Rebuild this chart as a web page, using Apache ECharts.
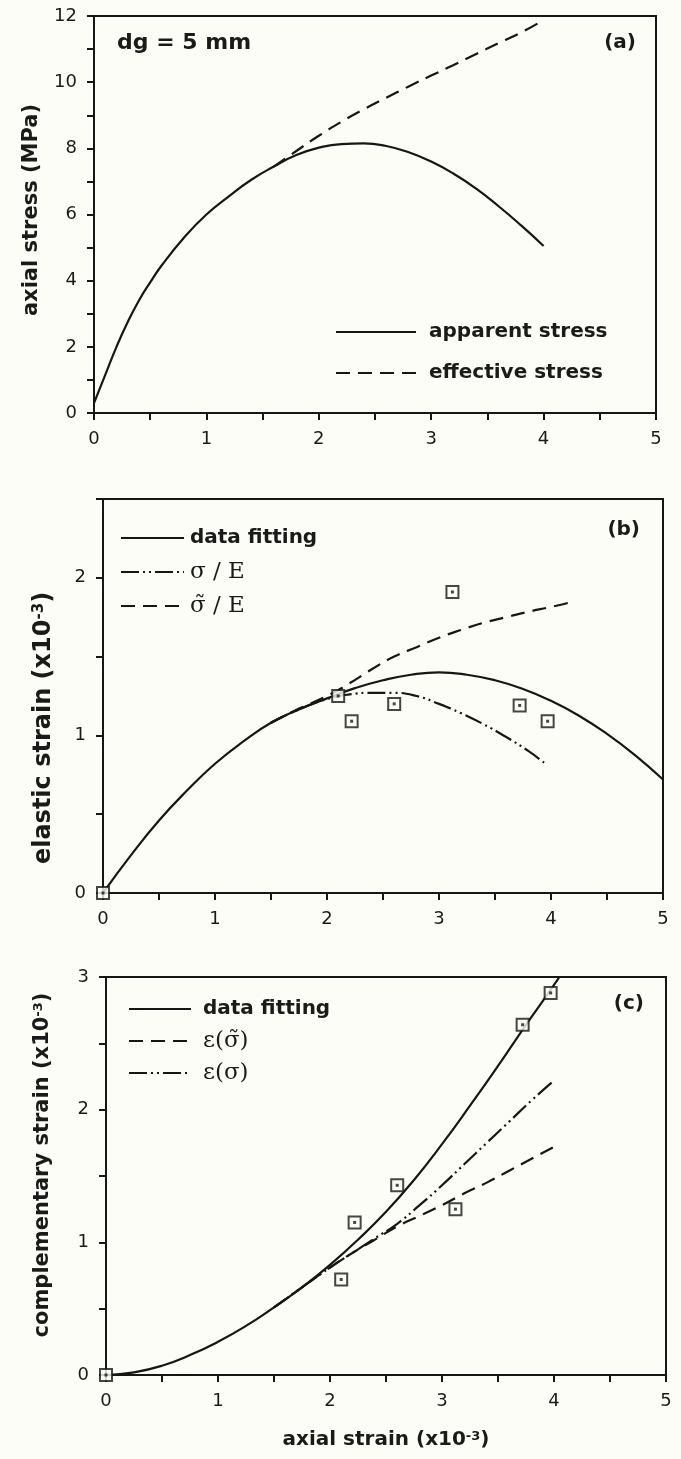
<!DOCTYPE html>
<html>
<head>
<meta charset="utf-8">
<script src="https://cdn.jsdelivr.net/npm/echarts@6/dist/echarts.min.js"></script>
<style>
html,body{margin:0;padding:0;background:#fdfdf8;}
#chart{width:681px;height:1459px;}
</style>
</head>
<body>
<div id="chart"></div>
<script>
// ---------- data ----------
const xTickLabels = ['0', '1', '2', '3', '4', '5'];
const yTickLabelsA = ['0', '2', '4', '6', '8', '10', '12'];
const yTickLabelsB = ['0', '1', '2'];
const yTickLabelsC = ['0', '1', '2', '3'];

// panel (a)
const aStrain = [0, 0.1, 0.2, 0.3, 0.4, 0.5, 0.6, 0.8, 1.0, 1.2, 1.4, 1.6, 1.8, 2.0, 2.2, 2.4, 2.6, 2.8, 3.0, 3.2, 3.4, 3.6, 3.8, 4.0];
const apparentStress = [0.3, 1.15, 2.0, 2.75, 3.4, 3.95, 4.45, 5.3, 6.0, 6.55, 7.05, 7.45, 7.8, 8.02, 8.13, 8.15, 8.07, 7.88, 7.6, 7.23, 6.78, 6.25, 5.67, 5.05];
const effStrain = [1.6, 1.8, 2.0, 2.2, 2.4, 2.6, 2.8, 3.0, 3.2, 3.4, 3.6, 3.8, 3.95];
const effectiveStress = [7.45, 7.92, 8.38, 8.8, 9.18, 9.53, 9.87, 10.2, 10.52, 10.85, 11.18, 11.5, 11.78];

// panel (b)
const bFitStrain = [0, 0.25, 0.5, 0.75, 1, 1.25, 1.5, 1.75, 2, 2.25, 2.5, 2.75, 3, 3.25, 3.5, 3.75, 4, 4.25, 4.5, 4.75, 5];
const bFit = [0, 0.24, 0.46, 0.65, 0.82, 0.96, 1.08, 1.165, 1.235, 1.30, 1.35, 1.385, 1.40, 1.385, 1.35, 1.295, 1.22, 1.125, 1.01, 0.875, 0.72];
const bSigmaStrain = [1.5, 1.75, 2.0, 2.2, 2.4, 2.6, 2.8, 3.0, 3.2, 3.4, 3.6, 3.8, 3.95];
const bSigmaE = [1.08, 1.165, 1.23, 1.26, 1.27, 1.27, 1.25, 1.20, 1.14, 1.07, 0.99, 0.90, 0.82];
const bTildeStrain = [1.5, 1.75, 2.0, 2.2, 2.4, 2.6, 2.8, 3.0, 3.2, 3.4, 3.6, 3.8, 4.0, 4.15];
const bTildeE = [1.08, 1.17, 1.25, 1.33, 1.42, 1.50, 1.56, 1.62, 1.67, 1.715, 1.75, 1.785, 1.815, 1.84];

// panel (c)
const cFitStrain = [0, 0.25, 0.5, 0.75, 1, 1.25, 1.5, 1.75, 2, 2.25, 2.5, 2.75, 3, 3.25, 3.5, 3.75, 4, 4.1];
const cFit = [0, 0.02, 0.07, 0.15, 0.25, 0.37, 0.51, 0.66, 0.83, 1.02, 1.23, 1.47, 1.74, 2.03, 2.33, 2.64, 2.94, 3.07];
const cTildeStrain = [1.5, 1.75, 2.0, 2.2, 2.4, 2.6, 2.8, 3.0, 3.2, 3.4, 3.6, 3.8, 4.0];
const cTilde = [0.51, 0.66, 0.81, 0.92, 1.02, 1.12, 1.20, 1.28, 1.37, 1.45, 1.54, 1.63, 1.72];
const cSigmaStrain = [1.5, 1.75, 2.0, 2.2, 2.4, 2.6, 2.8, 3.0, 3.2, 3.4, 3.6, 3.8, 4.0];
const cSigma = [0.51, 0.66, 0.81, 0.92, 1.03, 1.14, 1.28, 1.43, 1.59, 1.75, 1.91, 2.07, 2.22];

// measured points (b) and (c)
const markerStrain = [0, 2.1, 2.22, 2.6, 3.12, 3.72, 3.97];
const elasticMarkers = [0, 1.25, 1.09, 1.2, 1.91, 1.19, 1.09];
const complementaryMarkers = [0, 0.72, 1.15, 1.43, 1.25, 2.64, 2.88];

// ---------- styling ----------
const INK = '#161616';
const BG = '#fdfdf8';
const SANS = 'DejaVu Sans';
const SERIF = 'DejaVu Serif';
const DASH = [14, 8];
const DASHDOT2 = [18, 4, 2, 4, 2, 4];

const pairs = (xs, ys) => xs.map((x, i) => [x, ys[i]]);

function lineSeries(name, xs, ys, gi, type) {
  return {
    type: 'line', name: name, xAxisIndex: gi, yAxisIndex: gi,
    data: pairs(xs, ys), symbol: 'none', showSymbol: false, smooth: 0.5,
    lineStyle: { color: INK, width: 2.2, type: type, cap: 'butt' },
    itemStyle: { color: INK },
    z: 3, silent: true, animation: false
  };
}
function markerSeries(xs, ys, gi) {
  return [{
    type: 'scatter', xAxisIndex: gi, yAxisIndex: gi, data: pairs(xs, ys),
    symbol: 'rect', symbolSize: 12,
    itemStyle: { color: BG, borderColor: INK, borderWidth: 2 },
    z: 5, silent: true, animation: false, clip: false
  }, {
    type: 'scatter', xAxisIndex: gi, yAxisIndex: gi, data: pairs(xs, ys),
    symbol: 'rect', symbolSize: 3,
    itemStyle: { color: INK },
    z: 6, silent: true, animation: false, clip: false
  }];
}
function xAx(gi) {
  return {
    type: 'value', gridIndex: gi, min: 0, max: 5, interval: 0.5,
    axisLine: { show: true, onZero: false, lineStyle: { color: INK, width: 2 } },
    axisTick: { show: true, inside: false, length: 7, lineStyle: { color: INK, width: 2 } },
    axisLabel: {
      margin: 17, fontSize: 18, fontFamily: SANS, color: '#1a1a1a',
      formatter: v => Number.isInteger(v) ? xTickLabels[v] : ''
    },
    splitLine: { show: false }
  };
}
function yAx(gi, max, interval, labels) {
  return {
    type: 'value', gridIndex: gi, min: 0, max: max, interval: interval,
    axisLine: { show: true, onZero: false, lineStyle: { color: INK, width: 2 } },
    axisTick: { show: true, inside: false, length: 7, lineStyle: { color: INK, width: 2 } },
    axisLabel: {
      margin: 17, fontSize: 18, fontFamily: SANS, color: '#1a1a1a',
      formatter: v => labels.includes(String(v)) ? String(v) : ''
    },
    splitLine: { show: false }
  };
}
const legendText = {
  fontFamily: SANS, fontWeight: 'bold', fontSize: 20, color: '#1a1a1a',
  lineHeight: 24
};
const serifText = {
  fontFamily: SERIF, fontWeight: 'normal', fontSize: 23, color: '#1a1a1a',
  lineHeight: 24
};
const hiddenSymbol = { color: 'rgba(0,0,0,0)', borderColor: 'rgba(0,0,0,0)', borderWidth: 0, opacity: 0 };
function gridBox(left, top, width, height) {
  return {
    left: left, top: top, width: width, height: height,
    show: true, borderColor: INK, borderWidth: 2, backgroundColor: 'transparent',
    containLabel: false, outerBoundsMode: 'none'
  };
}
function txt(x, y, text, opts) {
  return Object.assign({
    type: 'text', x: x, y: y, silent: true,
    style: Object.assign({
      text: text, fill: '#1a1a1a',
      fontFamily: SANS, fontWeight: 'bold', fontSize: 20,
      align: 'center', verticalAlign: 'middle',
      textAlign: 'center', textVerticalAlign: 'middle',
      rich: { sup: { fontFamily: SANS, fontWeight: 'bold', fontSize: 13, lineHeight: 12, verticalAlign: 'top', fill: '#1a1a1a' } }
    }, opts && opts.style)
  }, opts && opts.el);
}

const chart = echarts.init(document.getElementById('chart'), null, { renderer: 'canvas' });
chart.setOption({
  backgroundColor: BG,
  animation: false,
  grid: [
    gridBox(94, 16, 562, 397),
    gridBox(103, 499, 560, 394),
    gridBox(106, 977, 560, 398)
  ],
  xAxis: [xAx(0), xAx(1), xAx(2)],
  yAxis: [
    yAx(0, 12, 1, yTickLabelsA),
    yAx(1, 2.5, 0.5, yTickLabelsB),
    yAx(2, 3, 0.5, yTickLabelsC)
  ],
  legend: [
    {
      orient: 'vertical', left: 330, top: 315, itemWidth: 80, itemHeight: 14, itemGap: 17,
      selectedMode: false, itemStyle: hiddenSymbol,
      textStyle: Object.assign({ padding: [0, 0, 0, 8] }, legendText),
      data: ['apparent stress', 'effective stress']
    },
    {
      orient: 'vertical', left: 115, top: 521, itemWidth: 63, itemHeight: 14, itemGap: 10,
      selectedMode: false, itemStyle: hiddenSymbol,
      textStyle: Object.assign({ padding: [0, 0, 0, 1] }, legendText),
      data: ['data fitting',
        { name: 'σ / E', textStyle: serifText },
        { name: 'σ̃ / E', textStyle: serifText }]
    },
    {
      orient: 'vertical', left: 123, top: 992, itemWidth: 62, itemHeight: 14, itemGap: 8,
      selectedMode: false, itemStyle: hiddenSymbol,
      textStyle: Object.assign({ padding: [0, 0, 0, 7] }, legendText),
      data: ['data fitting',
        { name: 'ε(σ̃)', textStyle: serifText },
        { name: 'ε(σ)', textStyle: serifText }]
    }
  ],
  series: [
    lineSeries('apparent stress', aStrain, apparentStress, 0, 'solid'),
    lineSeries('effective stress', effStrain, effectiveStress, 0, DASH),
    lineSeries('data fitting', bFitStrain, bFit, 1, 'solid'),
    lineSeries('σ / E', bSigmaStrain, bSigmaE, 1, DASHDOT2),
    lineSeries('σ̃ / E', bTildeStrain, bTildeE, 1, DASH),
    ...markerSeries(markerStrain, elasticMarkers, 1),
    lineSeries('data fitting', cFitStrain, cFit, 2, 'solid'),
    lineSeries('ε(σ̃)', cTildeStrain, cTilde, 2, DASH),
    lineSeries('ε(σ)', cSigmaStrain, cSigma, 2, DASHDOT2),
    ...markerSeries(markerStrain, complementaryMarkers, 2)
  ],
  graphic: [
    txt(117, 43, 'dg = 5 mm', { style: { fontSize: 22, align: 'left', textAlign: 'left' } }),
    txt(636, 43, '(a)', { style: { align: 'right', textAlign: 'right' } }),
    txt(640, 530, '(b)', { style: { align: 'right', textAlign: 'right' } }),
    txt(644, 1004, '(c)', { style: { align: 'right', textAlign: 'right' } }),
    txt(32, 210, 'axial stress (MPa)', { el: { rotation: Math.PI / 2 }, style: { fontSize: 21 } }),
    txt(44, 728, 'elastic strain (x10{sup|-3})', { el: { rotation: Math.PI / 2 }, style: { fontSize: 24, rich: { sup: { fontFamily: SANS, fontWeight: 'bold', fontSize: 15, lineHeight: 13, verticalAlign: 'top', fill: '#1a1a1a' } } } }),
    txt(43, 1165, 'complementary strain (x10{sup|-3})', { el: { rotation: Math.PI / 2 }, style: { fontSize: 21 } }),
    txt(386, 1440, 'axial strain (x10{sup|-3})', {})
  ]
});
</script>
</body>
</html>
